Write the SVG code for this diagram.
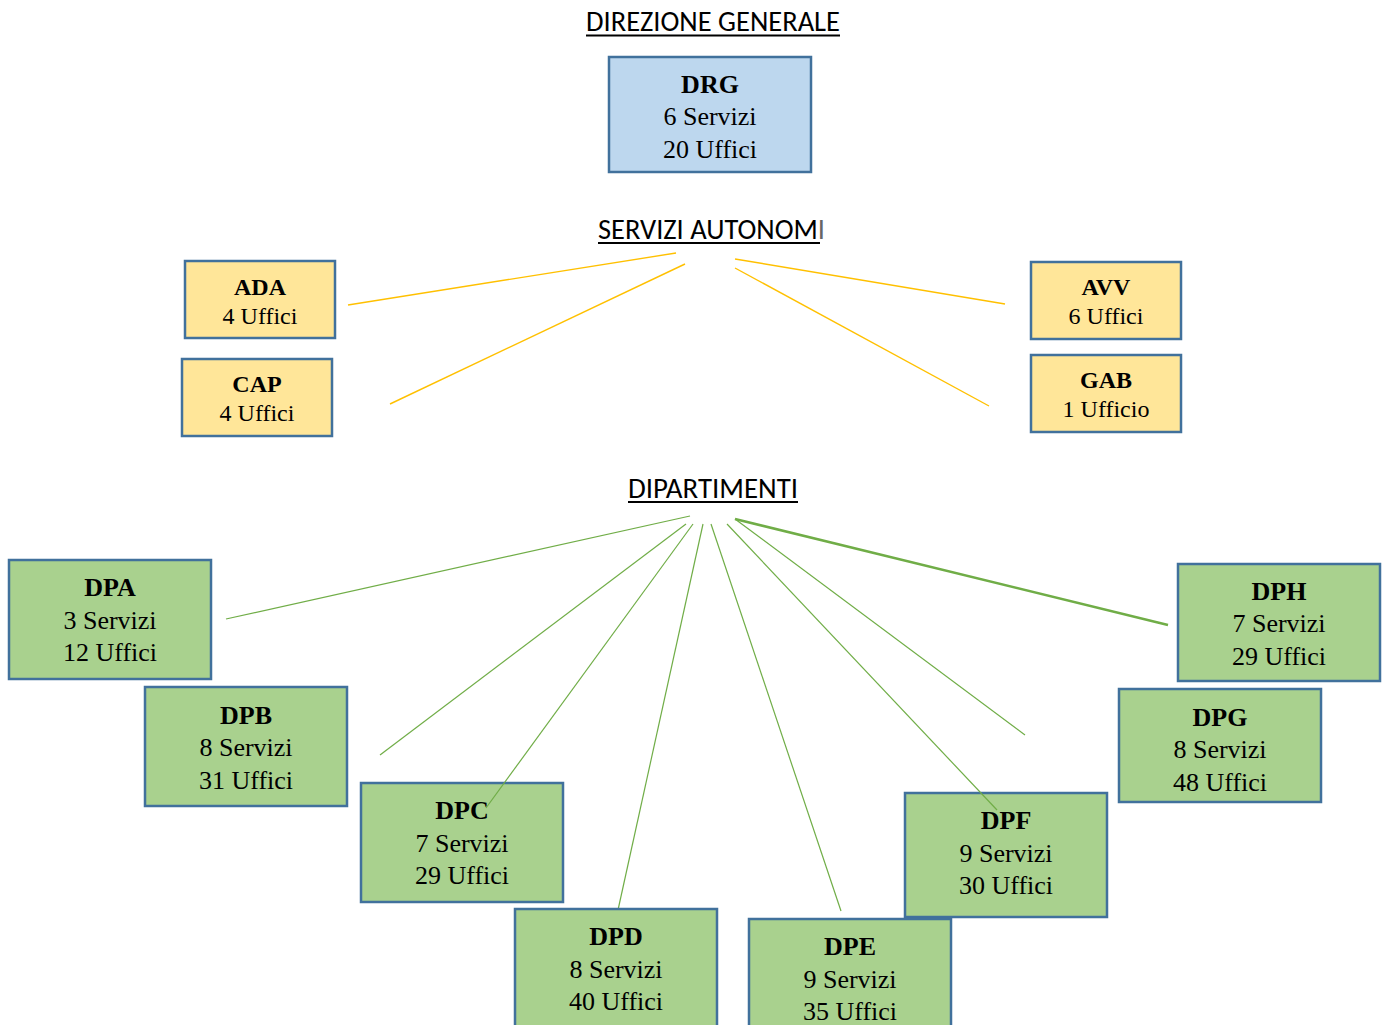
<svg xmlns="http://www.w3.org/2000/svg" width="1383" height="1025" viewBox="0 0 1383 1025">
<style>
.box{stroke:#41719c;stroke-width:2.5}
.blue{fill:#bdd7ee}.yel{fill:#ffe699}.grn{fill:#a9d18e}
.t{font-family:"Liberation Serif","Times New Roman",serif;fill:#000;text-anchor:middle}
.b{font-weight:bold}
.s26{font-size:26px}.s24{font-size:24px}
.h{font-family:Carlito,"Liberation Sans",sans-serif;font-size:28px;fill:#000}
.ul{stroke:#000;stroke-width:2}
.yl{stroke:#ffc000;stroke-width:1.4;fill:none}
.gl{stroke:#70ad47;stroke-width:1.2;fill:none}
</style>
<rect width="1383" height="1025" fill="#fff"/>
<g id="headings">
<text class="h" x="586" y="31" textLength="254" lengthAdjust="spacingAndGlyphs">DIREZIONE GENERALE</text>
<line class="ul" x1="586" y1="35.5" x2="840" y2="35.5"/>
<text class="h" x="598" y="239" textLength="227" lengthAdjust="spacingAndGlyphs">SERVIZI AUTONOM<tspan fill="#666">I</tspan></text>
<line class="ul" x1="598" y1="243" x2="820" y2="243"/>
<text class="h" x="628" y="498" textLength="170" lengthAdjust="spacingAndGlyphs">DIPARTIMENTI</text>
<line class="ul" x1="628" y1="502" x2="798" y2="502"/>
</g>
<g id="connectors">
<line class="yl" x1="676" y1="253" x2="348" y2="305"/>
<line class="yl" x1="685" y1="264" x2="390" y2="404"/>
<line class="yl" x1="735" y1="259" x2="1005" y2="304"/>
<line class="yl" x1="735" y1="268" x2="989" y2="406"/>
<line class="gl" x1="690" y1="516" x2="226" y2="619"/>
<line class="gl" x1="686" y1="524" x2="380" y2="755"/>
<line class="gl" x1="703" y1="524" x2="618" y2="910"/>
<line class="gl" x1="711" y1="524" x2="841" y2="911"/>
<line class="gl" x1="735" y1="519" x2="1025" y2="735"/>
<line class="gl" x1="735" y1="519" x2="1168" y2="625" style="stroke-width:2.5"/>
</g>
<g id="DRG">
<rect class="box blue" x="609" y="57" width="202" height="115"/>
<text class="t b s26" x="710" y="93">DRG</text>
<text class="t s26" x="710" y="125">6 Servizi</text>
<text class="t s26" x="710" y="158">20 Uffici</text>
</g>
<g id="ADA">
<rect class="box yel" x="185" y="261" width="150" height="77"/>
<text class="t b s24" x="260" y="295">ADA</text>
<text class="t s24" x="260" y="324">4 Uffici</text>
</g>
<g id="CAP">
<rect class="box yel" x="182" y="359" width="150" height="77"/>
<text class="t b s24" x="257" y="392">CAP</text>
<text class="t s24" x="257" y="421">4 Uffici</text>
</g>
<g id="AVV">
<rect class="box yel" x="1031" y="262" width="150" height="77"/>
<text class="t b s24" x="1106" y="295">AVV</text>
<text class="t s24" x="1106" y="324">6 Uffici</text>
</g>
<g id="GAB">
<rect class="box yel" x="1031" y="355" width="150" height="77"/>
<text class="t b s24" x="1106" y="388">GAB</text>
<text class="t s24" x="1106" y="417">1 Ufficio</text>
</g>
<g id="DPA">
<rect class="box grn" x="9" y="560" width="202" height="119"/>
<text class="t b s26" x="110" y="596">DPA</text>
<text class="t s26" x="110" y="629">3 Servizi</text>
<text class="t s26" x="110" y="661">12 Uffici</text>
</g>
<g id="DPB">
<rect class="box grn" x="145" y="687" width="202" height="119"/>
<text class="t b s26" x="246" y="724">DPB</text>
<text class="t s26" x="246" y="756">8 Servizi</text>
<text class="t s26" x="246" y="789">31 Uffici</text>
</g>
<g id="DPC">
<rect class="box grn" x="361" y="783" width="202" height="119"/>
<text class="t b s26" x="462" y="819">DPC</text>
<text class="t s26" x="462" y="852">7 Servizi</text>
<text class="t s26" x="462" y="884">29 Uffici</text>
</g>
<g id="DPD">
<rect class="box grn" x="515" y="909" width="202" height="125"/>
<text class="t b s26" x="616" y="945">DPD</text>
<text class="t s26" x="616" y="978">8 Servizi</text>
<text class="t s26" x="616" y="1010">40 Uffici</text>
</g>
<g id="DPF">
<rect class="box grn" x="905" y="793" width="202" height="124"/>
<text class="t b s26" x="1006" y="829">DPF</text>
<text class="t s26" x="1006" y="862">9 Servizi</text>
<text class="t s26" x="1006" y="894">30 Uffici</text>
</g>
<g id="DPE">
<rect class="box grn" x="749" y="919" width="202" height="115"/>
<text class="t b s26" x="850" y="955">DPE</text>
<text class="t s26" x="850" y="988">9 Servizi</text>
<text class="t s26" x="850" y="1020">35 Uffici</text>
</g>
<g id="DPG">
<rect class="box grn" x="1119" y="689" width="202" height="113"/>
<text class="t b s26" x="1220" y="726">DPG</text>
<text class="t s26" x="1220" y="758">8 Servizi</text>
<text class="t s26" x="1220" y="791">48 Uffici</text>
</g>
<g id="DPH">
<rect class="box grn" x="1178" y="564" width="202" height="117"/>
<text class="t b s26" x="1279" y="600">DPH</text>
<text class="t s26" x="1279" y="632">7 Servizi</text>
<text class="t s26" x="1279" y="665">29 Uffici</text>
</g>
<g id="connectors-over">
<line class="gl" x1="693" y1="524" x2="486" y2="808"/>
<line class="gl" x1="727" y1="524" x2="997" y2="810"/>
</g>
</svg>
